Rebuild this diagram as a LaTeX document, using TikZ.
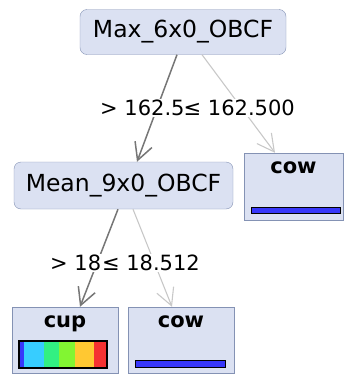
\documentclass[tikz,border=0pt]{standalone}
\usepackage{fontspec}
\setmainfont{DejaVu Sans}
\usetikzlibrary{arrows.meta}

\definecolor{nodefill}{RGB}{219,225,242}
\definecolor{nodeline}{RGB}{132,146,180}
\definecolor{edgedark}{RGB}{118,118,118}
\definecolor{edgelight}{RGB}{200,200,200}
\definecolor{barblue}{RGB}{55,55,250}
\definecolor{barcyan}{RGB}{55,205,255}
\definecolor{barspring}{RGB}{50,240,130}
\definecolor{barlime}{RGB}{130,245,50}
\definecolor{baryellow}{RGB}{255,200,50}
\definecolor{barred}{RGB}{245,50,50}

\tikzset{
	split/.style={draw=nodeline, fill=nodefill, rounded corners=7pt, inner sep=0pt,
		font=\fontsize{23.5}{25}\selectfont},
	leaf/.style={draw=nodeline, fill=nodefill, inner sep=0pt},
	leafname/.style={font=\bfseries\fontsize{21}{23}\selectfont, inner sep=0pt, anchor=north},
	cond/.style={fill=white, inner sep=1pt, font=\fontsize{21}{23}\selectfont},
	ydir/.style={->, >={Straight Barb[length=17pt,width=18pt]}, line width=1.5pt, draw=edgedark},
	ndir/.style={->, >={Straight Barb[length=17pt,width=18pt]}, line width=1.1pt, draw=edgelight},
}

\begin{document}
\begin{tikzpicture}[x=1pt, y=-1pt]
	\useasboundingbox (0, 0) rectangle (345, 375);

	\node[split, minimum width=206pt, minimum height=45pt] (max) at (183, 32) {Max\_6x0\_OBCF};
	\node[split, minimum width=219pt, minimum height=47pt] (mean) at (123.5, 185.5) {Mean\_9x0\_OBCF};

	\node[leaf, minimum width=99pt, minimum height=67pt] (cowa) at (293.5, 186.5) {};
	\node[leaf, minimum width=106pt, minimum height=66pt] (cup) at (65, 340) {};
	\node[leaf, minimum width=106pt, minimum height=66pt] (cowb) at (181, 340) {};

	\node[leafname] (cowaname) at ([yshift=-9pt]cowa.north) {cow};
	\node[leafname] (cupname) at ([yshift=-9pt]cup.north) {cup};
	\node[leafname] (cowbname) at ([yshift=-9pt]cowb.north) {cow};

	% class bars
	\draw[fill=barblue, line width=1pt] (251, 207) rectangle (340, 213);
	\draw[fill=barblue, line width=1pt] (135, 360) rectangle (225, 367);
	\fill[barblue] (19, 341) rectangle (24, 368);
	\fill[barcyan] (24, 341) rectangle (44, 368);
	\fill[barspring] (44, 341) rectangle (59, 368);
	\fill[barlime] (59, 341) rectangle (75, 368);
	\fill[baryellow] (75, 341) rectangle (94, 368);
	\fill[barred] (94, 341) rectangle (107, 368);
	\draw[line width=1.2pt] (19, 341) rectangle (107, 368);

	\draw[ydir] ([xshift=-6pt]max.south) -- ([xshift=13.5pt]mean.north);
	\draw[ndir] ([xshift=19pt]max.south) -- ([xshift=-18.5pt]cowa.north);
	\draw[ydir] ([xshift=-5.5pt]mean.south) -- ([xshift=15pt]cup.north);
	\draw[ndir] ([xshift=9.5pt]mean.south) -- ([xshift=-9pt]cowb.north);

	\node[cond, anchor=west] (maxyes) at (99, 108) {> 162.500};
	\node[cond, anchor=east] (maxno) at (296, 108) {≤ 162.500};
	\node[cond, anchor=west] (meanyes) at (49, 263) {> 18.512};
	\node[cond, anchor=east] (meanno) at (201, 263) {≤ 18.512};
\end{tikzpicture}
\end{document}
